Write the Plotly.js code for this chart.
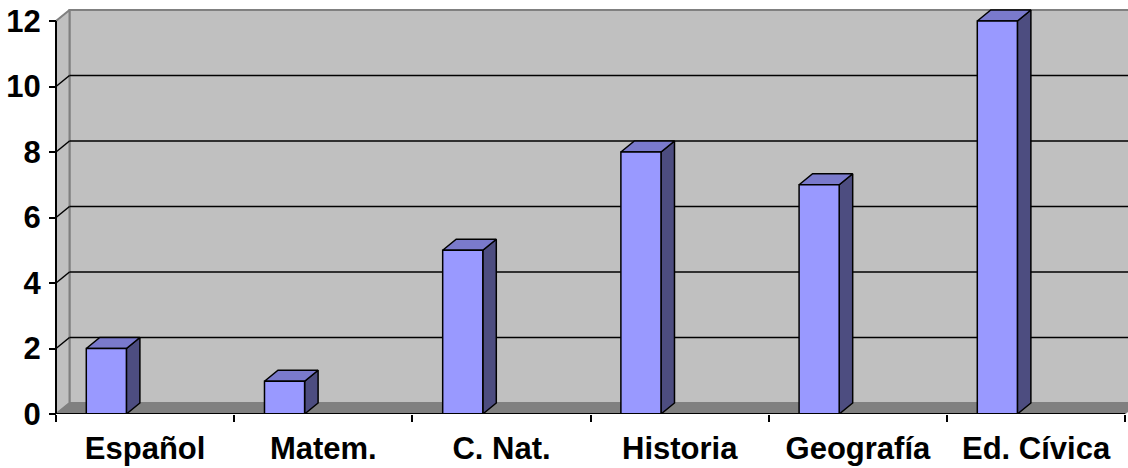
<!DOCTYPE html>
<html>
<head>
<meta charset="utf-8">
<script src="https://cdn.plot.ly/plotly-3.0.1.min.js"></script>
<style>html,body{margin:0;padding:0;background:#fff;}#chart{width:1128px;height:468px;}</style>
</head>
<body>
<div id="chart"></div>
<script>
// ---- data ----
const categories = ["Español", "Matem.", "C. Nat.", "Historia", "Geografía", "Ed. Cívica"];
const values = [2, 1, 5, 8, 7, 12];
const yTicks = [0, 2, 4, 6, 8, 10, 12];

// ---- 3D look parameters (in axis units) ----
const W = 1128, H = 468;
const mL = 50, mR = 0, mT = 8, mB = 54;
const pxPerCat = 178.2;          // px per category
const yMax = 12;
const pxPerUnit = (414 - 21) / yMax;
const DX = 13.5 / pxPerCat;      // depth offset x
const DY = 11 / pxPerUnit;       // depth offset y
const plotW = W - mL - mR, plotH = H - mT - mB;
const xLeftPad = 6 / pxPerCat;
const xRange = [-xLeftPad, plotW / pxPerCat - xLeftPad];
const yRange = [0, plotH / pxPerUnit];
const nCat = categories.length;
const bx0 = 0.17, bx1 = 0.395;   // bar front face within category

const traces = [];
function poly(xs, ys, fill, line, lw) {
  traces.push({
    type: 'scatter', mode: 'lines', x: xs, y: ys, fill: 'toself',
    fillcolor: fill, line: {color: line, width: lw || 0},
    hoverinfo: 'skip', showlegend: false
  });
}
function seg(xs, ys, color, lw) {
  traces.push({
    type: 'scatter', mode: 'lines', x: xs, y: ys,
    line: {color: color, width: lw}, hoverinfo: 'skip', showlegend: false
  });
}

// back wall
poly([DX, nCat + DX + 1, nCat + DX + 1, DX, DX], [DY, DY, yMax + DY, yMax + DY, DY], '#C0C0C0', '#808080', 2);
// side wall
poly([0, DX, DX, 0, 0], [0, DY, yMax + DY, yMax, 0], '#C0C0C0', '#808080', 2);
// gridlines
yTicks.filter(v => v > 0 && v < yMax).forEach(v => {
  seg([DX, nCat + DX + 1], [v + DY, v + DY], '#000000', 1.5);
  seg([0, DX], [v, v + DY], '#000000', 1.5);
});
// floor
poly([0, nCat, nCat + DX, DX, 0], [0, 0, DY, DY, 0], '#808080', '#808080', 0.5);

// bars
values.forEach((v, i) => {
  const x0 = i + bx0, x1 = i + bx1;
  // side
  poly([x1, x1 + DX, x1 + DX, x1, x1], [0, DY, v + DY, v, 0], '#4D4D80', '#000000', 1.5);
  // top
  poly([x0, x1, x1 + DX, x0 + DX, x0], [v, v, v + DY, v + DY, v], '#7A7ACC', '#000000', 1.5);
  // front
  poly([x0, x1, x1, x0, x0], [0, 0, v, v, 0], '#9999FF', '#000000', 1.5);
});

// axis lines
seg([0, nCat], [0, 0], '#000000', 2);
seg([0, 0], [0, yMax], '#000000', 2);

const layout = {
  width: W, height: H,
  margin: {l: mL, r: mR, t: mT, b: mB},
  paper_bgcolor: '#FFFFFF', plot_bgcolor: '#FFFFFF',
  showlegend: false,
  font: {family: 'Liberation Sans, Arial, sans-serif', color: '#000000'},
  xaxis: {
    range: xRange, showgrid: false, zeroline: false, showline: false,
    tickmode: 'array',
    tickvals: categories.map((c, i) => i + 0.5),
    ticktext: categories.map(c => '<b>' + c + '</b>'),
    ticks: '', ticklen: 0,
    ticklabelstandoff: 13,
    tickfont: {size: 31, family: 'Liberation Sans, Arial, sans-serif', color: '#000'},
    minor: {tickmode: 'array', tickvals: Array.from({length: nCat + 1}, (_, i) => i),
            ticks: 'outside', ticklen: 7, tickwidth: 2, tickcolor: '#000', showgrid: false},
    fixedrange: true
  },
  yaxis: {
    range: yRange, showgrid: false, zeroline: false, showline: false,
    anchor: 'free', position: xLeftPad * pxPerCat / plotW,
    tickmode: 'array', tickvals: yTicks,
    ticktext: yTicks.map(t => '<b>' + t + '</b>'),
    ticks: 'outside', ticklen: 7, tickwidth: 2, tickcolor: '#000',
    ticklabelstandoff: 2,
    tickfont: {size: 31, family: 'Liberation Sans, Arial, sans-serif', color: '#000'},
    fixedrange: true
  }
};

Plotly.newPlot('chart', traces, layout, {displayModeBar: false, staticPlot: true});
</script>
</body>
</html>
